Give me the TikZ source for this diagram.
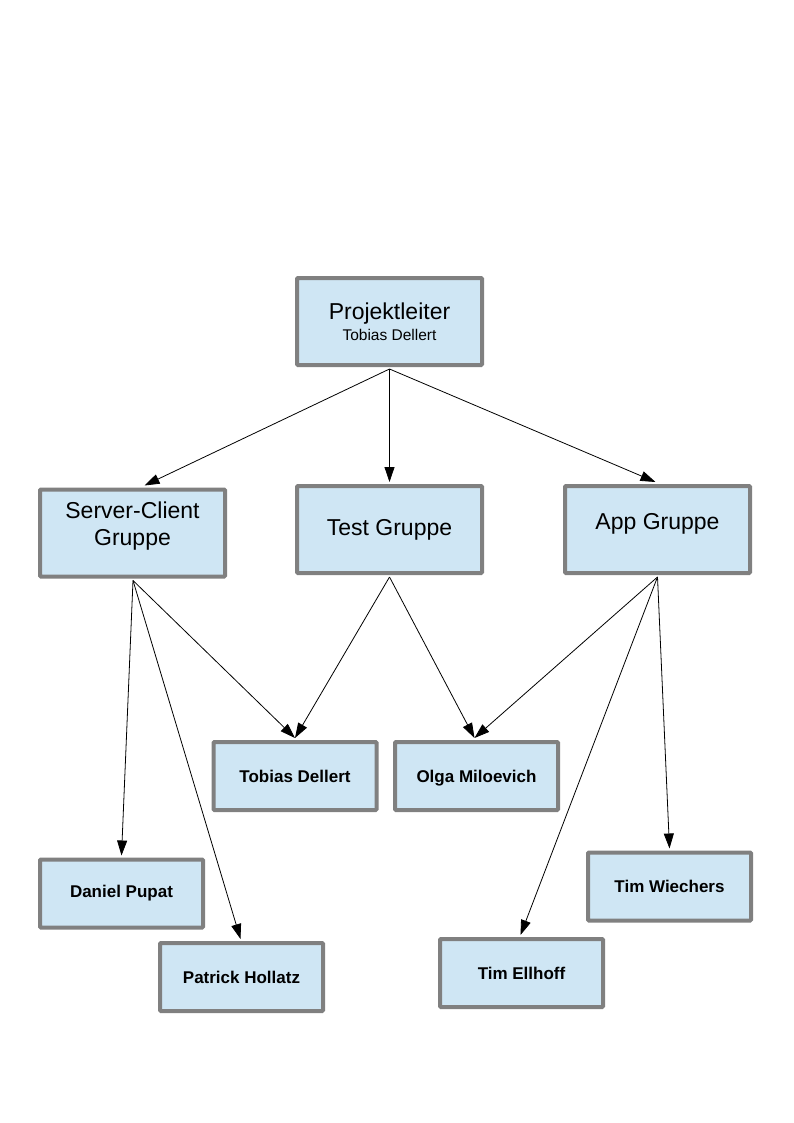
\documentclass[tikz,border=0pt]{standalone}
\usepackage{fontspec}
\setmainfont{Liberation Sans}
\usetikzlibrary{arrows.meta,calc}
\definecolor{boxfill}{RGB}{207,230,244}
\definecolor{boxline}{RGB}{128,128,128}
\tikzset{
  box/.style={draw=boxline, line width=4pt, fill=boxfill, rounded corners=1pt, align=center, inner sep=0pt},
  bigbox/.style={box, minimum width=185pt, minimum height=87pt, font=\fontsize{23}{27}\selectfont},
  smallbox/.style={box, minimum width=163pt, minimum height=68pt, font=\fontsize{17}{20}\selectfont\bfseries},
  conn/.style={draw=black, line width=0.8pt, -{Triangle[length=15pt,width=10pt]}}
}
\begin{document}
\begin{tikzpicture}[x=1pt,y=-1pt]
\useasboundingbox (0,0) rectangle (794,1123);
\fill[white] (0,0) rectangle (794,1123);
\node[bigbox] (pl) at (389.5,321.5) {\raisebox{0pt}{Projektleiter}\\[-6pt]{\fontsize{15.5}{18}\selectfont Tobias Dellert}};
\node[bigbox] (sc) at (132.5,533) {\raisebox{0pt}[0pt][0pt]{\begin{tabular}{@{}c@{}}Server-Client\\Gruppe\end{tabular}}};
\node[bigbox] (tg) at (389.5,529.5) {Test Gruppe};
\node[bigbox] (ag) at (657.5,529.5) {\raisebox{0.5pt}[0pt][0pt]{App Gruppe}};
\node[smallbox] (td) at (295,776) {Tobias Dellert};
\node[smallbox, text depth=0pt] (om) at (476.5,776) {Olga Miloevich};
\node[smallbox] (dp) at (121.5,893.5) {Daniel Pupat};
\node[smallbox] (ph) at (241.5,977) {Patrick Hollatz};
\node[smallbox] (tw) at (669.5,886.5) {Tim Wiechers};
\node[smallbox] (te) at (521.5,973) {Tim Ellhoff};
\coordinate (plb) at ($(pl.south)+(0,2)$);
\coordinate (scb) at ($(sc.south)+(0.5,2)$);
\coordinate (tgb) at ($(tg.south)+(0,2)$);
\coordinate (agb) at ($(ag.south)+(0,2)$);
\draw[conn] (plb) -- ($(sc.north)+(12,-2)$);
\draw[conn] (plb) -- ($(tg.north)+(0,-2)$);
\draw[conn] (plb) -- ($(ag.north)+(-2,-2)$);
\draw[conn] (scb) -- ($(dp.north)+(0,-2)$);
\draw[conn] (scb) -- ($(ph.north)+(-1,-2)$);
\draw[conn] (scb) -- ($(td.north)+(0,-2)$);
\draw[conn] (tgb) -- ($(td.north)+(0,-2)$);
\draw[conn] (tgb) -- ($(om.north)+(-2,-2)$);
\draw[conn] (agb) -- ($(om.north)+(-2,-2)$);
\draw[conn] (agb) -- ($(te.north)+(-1,-2)$);
\draw[conn] (agb) -- ($(tw.north)+(0,-2)$);
\end{tikzpicture}
\end{document}
